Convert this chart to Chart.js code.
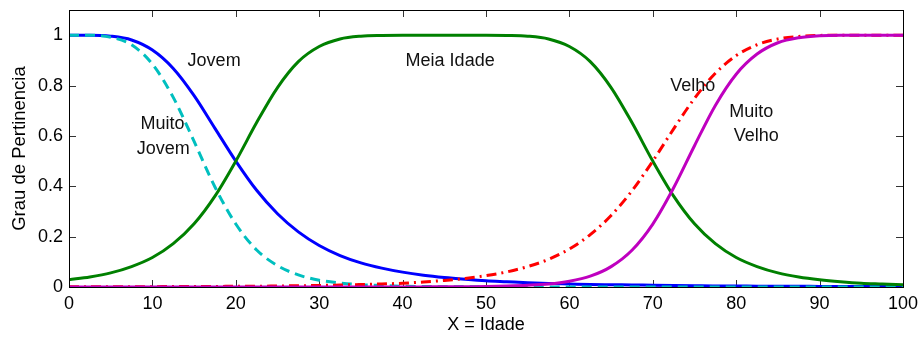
<!DOCTYPE html>
<html>
<head>
<meta charset="utf-8">
<script src="https://cdn.jsdelivr.net/npm/chart.js@4"></script>
<style>
  html, body { margin: 0; padding: 0; background: #fff; }
  #wrap { width: 920px; height: 338px; }
</style>
</head>
<body>
<div id="wrap"><canvas id="myChart" width="920" height="338"></canvas></div>
<script>
// idade (eixo x)
const idade = [0, 2.5, 5, 7.5, 10, 12.5, 15, 17.5, 20, 22.5, 25, 27.5, 30, 32.5, 35, 37.5, 40, 42.5, 45, 47.5,
  50, 52.5, 55, 57.5, 60, 62.5, 65, 67.5, 70, 72.5, 75, 77.5, 80, 82.5, 85, 87.5, 90, 92.5, 95, 97.5, 100];

// graus de pertinencia
const jovem = [1, 1, 0.996, 0.981, 0.941, 0.868, 0.76, 0.63, 0.5, 0.384, 0.291, 0.219, 0.165, 0.125, 0.096, 0.075, 0.059, 0.047, 0.038, 0.031,
  0.025, 0.021, 0.017, 0.014, 0.012, 0.010, 0.009, 0.008, 0.007, 0.006, 0.005, 0.004, 0.004, 0.003, 0.003, 0.003, 0.002, 0.002, 0.002, 0.002, 0.002];
const muitoJovem = [1, 1, 0.992, 0.962, 0.885, 0.753, 0.578, 0.397, 0.25, 0.147, 0.085, 0.048, 0.027, 0.016, 0.009, 0.006, 0.003, 0.002, 0.001, 0.001,
  0.001, 0, 0, 0, 0, 0, 0, 0, 0, 0, 0, 0, 0, 0, 0, 0, 0, 0, 0, 0, 0];
const meiaIdade = [0.029, 0.040, 0.056, 0.081, 0.117, 0.172, 0.251, 0.361, 0.5, 0.653, 0.792, 0.895, 0.955, 0.985, 0.996, 0.999, 1, 1, 1, 1,
  1, 0.999, 0.996, 0.985, 0.955, 0.895, 0.792, 0.653, 0.5, 0.361, 0.251, 0.172, 0.117, 0.081, 0.056, 0.040, 0.029, 0.021, 0.015, 0.012, 0.009];
const velho = [0.001, 0.001, 0.001, 0.001, 0.001, 0.002, 0.002, 0.002, 0.003, 0.003, 0.004, 0.005, 0.006, 0.008, 0.010, 0.012, 0.015, 0.020, 0.026, 0.034,
  0.045, 0.060, 0.081, 0.110, 0.151, 0.208, 0.284, 0.382, 0.5, 0.628, 0.749, 0.849, 0.919, 0.962, 0.985, 0.995, 0.999, 1, 1, 1, 1];
const muitoVelho = [0, 0, 0, 0, 0, 0, 0, 0, 0, 0, 0, 0, 0, 0, 0, 0, 0, 0, 0.001, 0.001,
  0.002, 0.004, 0.007, 0.012, 0.023, 0.043, 0.081, 0.146, 0.25, 0.394, 0.561, 0.721, 0.845, 0.925, 0.970, 0.990, 0.998, 1, 1, 1, 1];

const yTicks = [0, 0.2, 0.4, 0.6, 0.8, 1];
const xTicks = [0, 10, 20, 30, 40, 50, 60, 70, 80, 90, 100];

// textos dentro do grafico (posicao em coordenadas de dados)
const rotulos = [
  { text: 'Jovem', x: 17.4, y: 0.897 },
  { text: 'Muito', x: 11.2, y: 0.646 },
  { text: 'Jovem', x: 11.3, y: 0.548 },
  { text: 'Meia Idade', x: 45.7, y: 0.897 },
  { text: 'Velho', x: 74.8, y: 0.798 },
  { text: 'Muito', x: 81.8, y: 0.694 },
  { text: 'Velho', x: 82.4, y: 0.599 },
];

const FONT = 'Arial, "Liberation Sans", sans-serif';

function pontos(vals) {
  return idade.map(function (x, i) { return { x: x, y: vals[i] }; });
}

function serie(label, vals, cor, dash, ordem) {
  return {
    label: label,
    data: pontos(vals),
    borderColor: cor,
    backgroundColor: cor,
    borderWidth: 3,
    borderDash: dash,
    pointRadius: 0,
    fill: false,
    cubicInterpolationMode: 'monotone',
    order: ordem
  };
}

// zera o padding extra que o chart.js coloca por causa dos rotulos
function semPadding(s) {
  s.paddingLeft = 0; s.paddingRight = 0; s.paddingTop = 0; s.paddingBottom = 0;
}

// caixa + ticks para dentro (estilo matlab)
const caixaPlugin = {
  id: 'caixa',
  beforeDatasetsDraw(chart) {
    const ctx = chart.ctx;
    const a = chart.chartArea;
    const xs = chart.scales.x, ys = chart.scales.y;
    const tl = 7;
    ctx.save();
    ctx.strokeStyle = '#333';
    ctx.lineWidth = 1;
    ctx.beginPath();
    xTicks.forEach(function (v) {
      const px = Math.round(xs.getPixelForValue(v)) + 0.5;
      ctx.moveTo(px, a.bottom); ctx.lineTo(px, a.bottom - tl);
      ctx.moveTo(px, a.top); ctx.lineTo(px, a.top + tl);
    });
    yTicks.forEach(function (v) {
      const py = Math.round(ys.getPixelForValue(v)) + 0.5;
      ctx.moveTo(a.left, py); ctx.lineTo(a.left + tl, py);
      ctx.moveTo(a.right, py); ctx.lineTo(a.right - tl, py);
    });
    ctx.stroke();
    ctx.restore();
  },
  afterDatasetsDraw(chart) {
    const ctx = chart.ctx;
    const a = chart.chartArea;
    ctx.save();
    ctx.strokeStyle = '#000';
    ctx.lineWidth = 1;
    ctx.strokeRect(Math.round(a.left) + 0.5, Math.round(a.top) + 0.5,
      Math.round(a.right - a.left), Math.round(a.bottom - a.top));
    // rotulos
    ctx.fillStyle = '#111';
    ctx.font = '18px ' + FONT;
    ctx.textAlign = 'center';
    ctx.textBaseline = 'middle';
    rotulos.forEach(function (r) {
      ctx.fillText(r.text, chart.scales.x.getPixelForValue(r.x), chart.scales.y.getPixelForValue(r.y));
    });
    ctx.restore();
  }
};

const config = {
  type: 'line',
  data: {
    datasets: [
      serie('Jovem', jovem, 'rgb(0,0,255)', [], 5),
      serie('Muito Jovem', muitoJovem, 'rgb(0,191,191)', [10, 6], 4),
      serie('Meia Idade', meiaIdade, 'rgb(0,128,0)', [], 3),
      serie('Velho', velho, 'rgb(255,0,0)', [10, 5, 2, 5], 2),
      serie('Muito Velho', muitoVelho, 'rgb(191,0,191)', [], 1)
    ]
  },
  options: {
    responsive: false,
    animation: false,
    layout: { padding: { left: 0, right: 17, top: 10, bottom: 0 } },
    plugins: {
      legend: { display: false },
      tooltip: { enabled: false }
    },
    scales: {
      x: {
        type: 'linear',
        min: 0,
        max: 100,
        afterFit: function (s) { s.height = 51; semPadding(s); },
        afterBuildTicks: function (s) { s.ticks = xTicks.map(function (v) { return { value: v }; }); },
        grid: { display: false, drawTicks: false },
        border: { display: false },
        ticks: {
          padding: 6,
          color: '#000',
          maxRotation: 0,
          font: { family: FONT, size: 18 }
        },
        title: {
          display: true,
          text: 'X = Idade',
          color: '#000',
          padding: { top: 0, bottom: 2 },
          font: { family: FONT, size: 18 }
        }
      },
      y: {
        min: 0,
        max: 1.1,
        afterFit: function (s) { s.width = 69; semPadding(s); },
        afterBuildTicks: function (s) { s.ticks = yTicks.map(function (v) { return { value: v }; }); },
        grid: { display: false, drawTicks: false },
        border: { display: false },
        ticks: {
          padding: 6,
          color: '#000',
          font: { family: FONT, size: 18 },
          callback: function (v) { return String(Math.round(v * 10) / 10); }
        },
        title: {
          display: true,
          text: 'Grau de Pertinencia',
          color: '#000',
          padding: { top: 9, bottom: 0 },
          font: { family: FONT, size: 18.5 }
        }
      }
    }
  },
  plugins: [caixaPlugin]
};

const myChart = new Chart(document.getElementById('myChart'), config);
</script>
</body>
</html>
